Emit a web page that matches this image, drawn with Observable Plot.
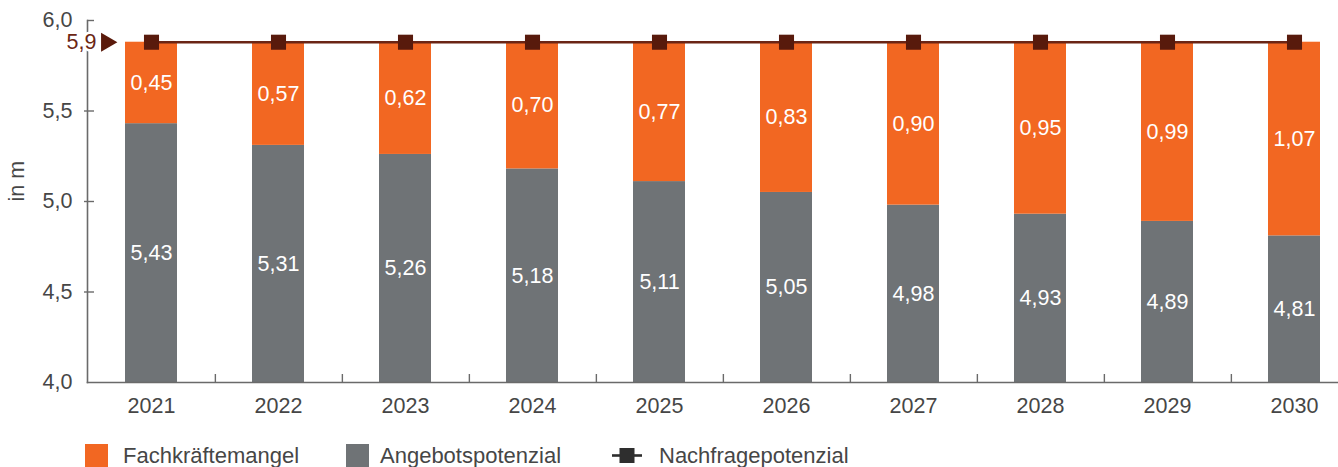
<!DOCTYPE html>
<html>
<head>
<meta charset="utf-8">
<script src="https://cdn.jsdelivr.net/npm/d3@7"></script>
<script src="https://cdn.jsdelivr.net/npm/@observablehq/plot@0.6"></script>
<style>
  html, body { margin: 0; padding: 0; background: #fff; overflow: hidden; }
  body { font-family: "Liberation Sans", Arial, Helvetica, sans-serif; }
  #legend { position: relative; width: 1338px; height: 37px; color: #464646; font-size: 22px; }
  #legend .item { position: absolute; top: 14px; height: 23px; display: flex; align-items: center; }
  #legend .sw { width: 23px; height: 23px; display: inline-block; }
</style>
</head>
<body>
<div id="chart"></div>
<div id="legend"></div>
<script>
const years = [2021, 2022, 2023, 2024, 2025, 2026, 2027, 2028, 2029, 2030];
const angebot = [5.43, 5.31, 5.26, 5.18, 5.11, 5.05, 4.98, 4.93, 4.89, 4.81];
const mangel = [0.45, 0.57, 0.62, 0.70, 0.77, 0.83, 0.90, 0.95, 0.99, 1.07];
const nachfrage = [5.88, 5.88, 5.88, 5.88, 5.88, 5.88, 5.88, 5.88, 5.88, 5.88];
const nachfrageLabel = "5,9";
const yTicks = [4.0, 4.5, 5.0, 5.5, 6.0];
const seriesNames = ["Fachkräftemangel", "Angebotspotenzial", "Nachfragepotenzial"];

const ORANGE = "#f26722";
const GRAY = "#6f7376";
const LINE = "#6b2515";
const SQUARE = "#581a0c";
const TEXT = "#464646";
const AXIS = "#6a6a6a";

const data = years.map((y, i) => ({
  year: y, angebot: angebot[i], mangel: mangel[i], nachfrage: nachfrage[i],
  top: angebot[i] + mangel[i]
}));

const fmt = v => d3.format(".2f")(v).replace(".", ",");
const fmtY = v => d3.format(".1f")(v).replace(".", ",");

const W = 1338, H = 430, ML = 87, MR = 0, MT = 20, MB = 48;
const xRange = [ML, 1358];
const padInner = 0.59, padOuter = 0.27;
const step = (xRange[1] - xRange[0]) / (years.length - padInner + 2 * padOuter);
const frameW = W - ML - MR, frameH = H - MT - MB;

const chart = Plot.plot({
  width: W, height: H,
  marginLeft: ML, marginRight: MR, marginTop: MT, marginBottom: MB,
  style: { fontFamily: '"Liberation Sans", Arial, Helvetica, sans-serif', fontSize: "21.5px", color: TEXT, background: "#fff" },
  x: { type: "band", domain: years, range: xRange, paddingInner: padInner, paddingOuter: padOuter },
  y: { type: "linear", domain: [4, 6] },
  marks: [
    Plot.barY(data, { x: "year", y1: 4, y2: "angebot", fill: GRAY }),
    Plot.barY(data, { x: "year", y1: "angebot", y2: "top", fill: ORANGE }),
    Plot.text(data, { x: "year", y: d => (4 + d.angebot) / 2, text: d => fmt(d.angebot), fill: "#fff", fontSize: 21.5 }),
    Plot.text(data, { x: "year", y: d => (d.angebot + d.top) / 2, text: d => fmt(d.mangel), fill: "#fff", fontSize: 21.5 }),
    // axis lines
    Plot.frame({ anchor: "left", stroke: AXIS, strokeWidth: 1.6 }),
    Plot.frame({ anchor: "bottom", stroke: AXIS, strokeWidth: 1.6 }),
    // x ticks at band boundaries
    Plot.tickX(years.slice(0, -1), { x: d => d, dx: step / 2, insetTop: frameH - 8, stroke: AXIS, strokeWidth: 1.4 }),
    // y ticks
    Plot.tickY(yTicks.filter(t => t > 4 && t < 6), { y: d => d, dx: -3, insetRight: frameW - 10, stroke: AXIS, strokeWidth: 1.4 }),
    Plot.tickY([6], { y: d => d, insetRight: frameW - 7, stroke: AXIS, strokeWidth: 1.4 }),
    Plot.axisY({ ticks: yTicks, tickSize: 0, tickPadding: 15, tickFormat: fmtY, label: null, fill: TEXT, fontSize: 21.5 }),
    Plot.axisX({ tickSize: 0, tickPadding: 15, tickFormat: d => String(d), label: null, fill: TEXT, fontSize: 21.5 }),
    Plot.text(["in m"], { frameAnchor: "left", dx: -70, rotate: -90, fill: TEXT, fontSize: 21.5 }),
    // demand line and markers
    Plot.line(data, { x: "year", y: "nachfrage", stroke: LINE, strokeWidth: 2.6 }),
    Plot.dot(data, { x: "year", y: "nachfrage", symbol: "square", r: 8.5, fill: SQUARE, stroke: "none" }),
    // 5,9 marker
    Plot.text([nachfrage[0]], { y: d => d, frameAnchor: "left", text: () => nachfrageLabel, textAnchor: "end", dx: 9, fill: "#6b2614", stroke: "#fff", strokeWidth: 5, fontSize: 21.5 }),
    Plot.dot([nachfrage[0]], { y: d => d, frameAnchor: "left", symbol: "triangle", rotate: 90, r: 7, dx: 19, fill: "#5a1a0b", stroke: "none" })
  ]
});
document.getElementById("chart").appendChild(chart);

const legend = document.getElementById("legend");
const items = [
  { left: 85, sw: `<span class="sw" style="background:${ORANGE}"></span>`, gap: 15, name: seriesNames[0] },
  { left: 346, sw: `<span class="sw" style="background:${GRAY}"></span>`, gap: 11, name: seriesNames[1] },
  { left: 611, sw: `<svg width="32" height="23"><line x1="1" y1="11.5" x2="31" y2="11.5" stroke="#2e2e2e" stroke-width="2.6"/><rect x="8.5" y="4" width="15" height="15" fill="#2e2e2e"/></svg>`, gap: 16, name: seriesNames[2] }
];
for (const it of items) {
  const d = document.createElement("div");
  d.className = "item";
  d.style.left = it.left + "px";
  d.innerHTML = it.sw + `<span style="margin-left:${it.gap}px">${it.name}</span>`;
  legend.appendChild(d);
}
</script>
</body>
</html>
